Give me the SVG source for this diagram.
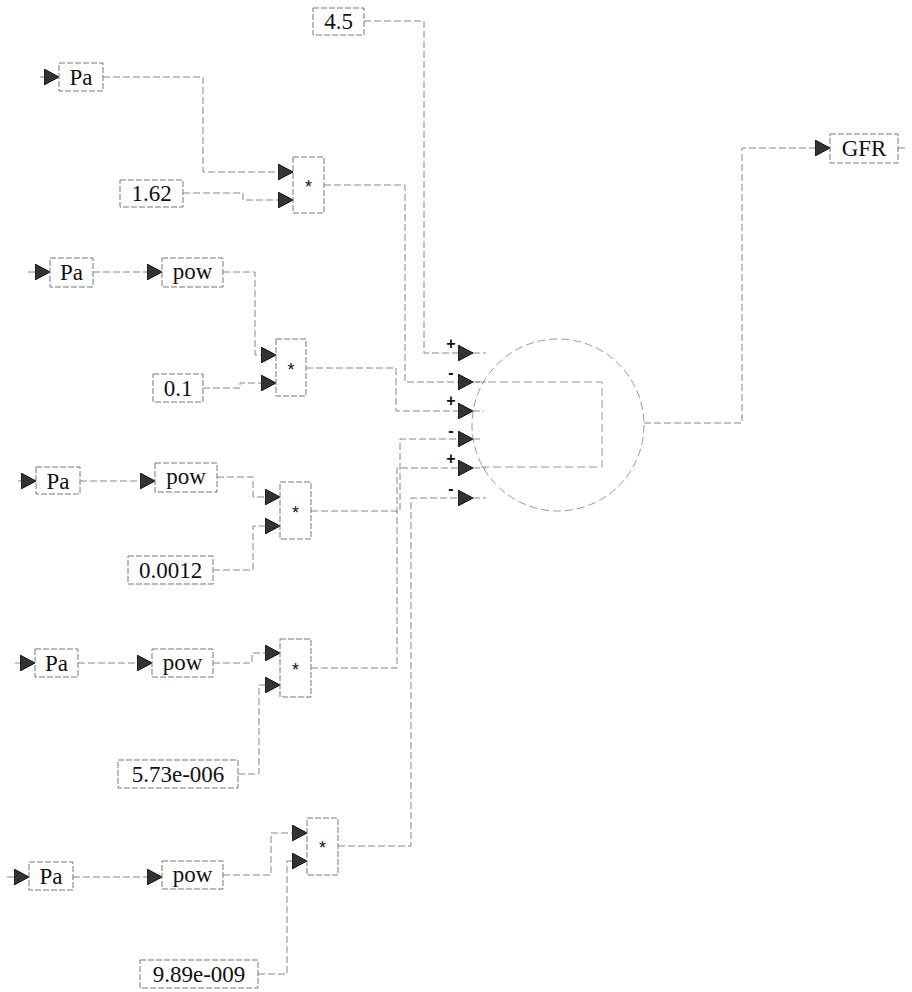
<svg xmlns="http://www.w3.org/2000/svg" width="912" height="992" viewBox="0 0 912 992">
<style>
.bg{fill:#fff}
.box{fill:#fff;stroke:#777;stroke-width:1;stroke-dasharray:6 2}
.w{fill:none;stroke:#888;stroke-width:1;stroke-dasharray:7 3}
.lbl{font-family:"Liberation Serif","Times New Roman",serif;font-size:23px;fill:#111;text-anchor:middle;dominant-baseline:central}
.op{font-family:"Liberation Sans",Arial,sans-serif;font-size:18px;fill:#111;text-anchor:middle;dominant-baseline:central}
.sg{font-family:"Liberation Sans",Arial,sans-serif;font-size:16px;font-weight:bold;fill:#111;text-anchor:middle;dominant-baseline:central}
.sum{fill:none;stroke:#999;stroke-width:1;stroke-dasharray:8 4}
</style>
<defs>
<marker id="ar" markerUnits="userSpaceOnUse" markerWidth="15" markerHeight="16" viewBox="0 0 15 16" refX="15" refY="8" orient="auto">
<path d="M0,0 L15,8 L0,16 Z" fill="#333" stroke="#111" stroke-width="1"/>
</marker>
</defs>
<rect class="bg" x="0" y="0" width="912" height="992"/>

<g id="connectors">
<path class="w" d="M364,21 H424 V353 H473" marker-end="url(#ar)"/>
<path class="w" d="M324,185 H405 V382 H473" marker-end="url(#ar)"/>
<path class="w" d="M306,368 H396 V411 H473" marker-end="url(#ar)"/>
<path class="w" d="M311,511 H400 V439 H473" marker-end="url(#ar)"/>
<path class="w" d="M311,668 H397 V468 H473" marker-end="url(#ar)"/>
<path class="w" d="M338,846 H411 V498 H473" marker-end="url(#ar)"/>
<path class="w" d="M644,423 H742 V148 H830" marker-end="url(#ar)"/>
<path class="w" d="M898,148 H907"/>

<path class="w" d="M40,77 H59" marker-end="url(#ar)"/>
<path class="w" d="M103,77 H203 V172 H293" marker-end="url(#ar)"/>
<path class="w" d="M183,193 H243 V200 H293" marker-end="url(#ar)"/>

<path class="w" d="M28,272 H50" marker-end="url(#ar)"/>
<path class="w" d="M93,272 H162" marker-end="url(#ar)"/>
<path class="w" d="M223,272 H255 V355 H276" marker-end="url(#ar)"/>
<path class="w" d="M203,388 H240 V383 H276" marker-end="url(#ar)"/>

<path class="w" d="M18,481 H36" marker-end="url(#ar)"/>
<path class="w" d="M80,481 H155" marker-end="url(#ar)"/>
<path class="w" d="M217,477 H253 V497 H280" marker-end="url(#ar)"/>
<path class="w" d="M213,570 H253 V526 H280" marker-end="url(#ar)"/>

<path class="w" d="M15,663 H35" marker-end="url(#ar)"/>
<path class="w" d="M78,663 H152" marker-end="url(#ar)"/>
<path class="w" d="M213,663 H252 V653 H280" marker-end="url(#ar)"/>
<path class="w" d="M238,774 H259 V685 H280" marker-end="url(#ar)"/>

<path class="w" d="M7,877 H29" marker-end="url(#ar)"/>
<path class="w" d="M73,877 H162" marker-end="url(#ar)"/>
<path class="w" d="M223,875 H271 V833 H307" marker-end="url(#ar)"/>
<path class="w" d="M258,974 H287 V861 H307" marker-end="url(#ar)"/>
</g>

<g id="c45"><rect class="box" x="313" y="8" width="51" height="27"/><text class="lbl" x="338.5" y="21.5">4.5</text></g>

<g id="pa1"><rect class="box" x="59" y="63" width="44" height="28"/><text class="lbl" x="81" y="77">Pa</text></g>
<g id="c162"><rect class="box" x="120" y="180" width="63" height="27"/><text class="lbl" x="151.5" y="193.5">1.62</text></g>
<g id="mul1"><rect class="box" x="293" y="157" width="31" height="56"/><text class="op" x="308.5" y="187">*</text></g>

<g id="pa2"><rect class="box" x="50" y="258" width="43" height="29"/><text class="lbl" x="71.5" y="272">Pa</text></g>
<g id="pow2"><rect class="box" x="162" y="258" width="61" height="29"/><text class="lbl" x="192.5" y="271">pow</text></g>
<g id="c01"><rect class="box" x="153" y="374" width="50" height="28"/><text class="lbl" x="178" y="388">0.1</text></g>
<g id="mul2"><rect class="box" x="276" y="339" width="30" height="57"/><text class="op" x="291" y="370">*</text></g>

<g id="pa3"><rect class="box" x="36" y="467" width="44" height="27"/><text class="lbl" x="58" y="481">Pa</text></g>
<g id="pow3"><rect class="box" x="155" y="463" width="62" height="29"/><text class="lbl" x="186" y="476">pow</text></g>
<g id="c00012"><rect class="box" x="128" y="556" width="85" height="28"/><text class="lbl" x="170.5" y="570">0.0012</text></g>
<g id="mul3"><rect class="box" x="280" y="482" width="31" height="57"/><text class="op" x="295.5" y="513">*</text></g>

<g id="pa4"><rect class="box" x="35" y="649" width="43" height="28"/><text class="lbl" x="56.5" y="663">Pa</text></g>
<g id="pow4"><rect class="box" x="152" y="649" width="61" height="28"/><text class="lbl" x="182.5" y="662">pow</text></g>
<g id="c573"><rect class="box" x="118" y="760" width="120" height="28"/><text class="lbl" x="178" y="774">5.73e-006</text></g>
<g id="mul4"><rect class="box" x="280" y="639" width="31" height="58"/><text class="op" x="295.5" y="670">*</text></g>

<g id="pa5"><rect class="box" x="29" y="862" width="44" height="28"/><text class="lbl" x="51" y="876">Pa</text></g>
<g id="pow5"><rect class="box" x="162" y="861" width="61" height="28"/><text class="lbl" x="192.5" y="874">pow</text></g>
<g id="c989"><rect class="box" x="140" y="960" width="118" height="28"/><text class="lbl" x="199" y="974">9.89e-009</text></g>
<g id="mul5"><rect class="box" x="307" y="818" width="31" height="57"/><text class="op" x="322.5" y="848">*</text></g>

<g id="sum">
<circle class="sum" cx="558" cy="425" r="86"/>
<path class="sum" d="M476,382 H602 V467 H476"/>
<path class="w" d="M473,353 H486 M473,382 H486 M473,411 H484 M473,439 H480 M473,468 H486 M473,498 H486"/>
<text class="sg" x="451" y="343">+</text>
<text class="sg" x="451" y="372">-</text>
<text class="sg" x="451" y="400">+</text>
<text class="sg" x="451" y="430">-</text>
<text class="sg" x="451" y="458">+</text>
<text class="sg" x="451" y="488">-</text>
</g>

<g id="gfr"><rect class="box" x="830" y="134" width="68" height="29"/><text class="lbl" x="864" y="148">GFR</text></g>
</svg>
